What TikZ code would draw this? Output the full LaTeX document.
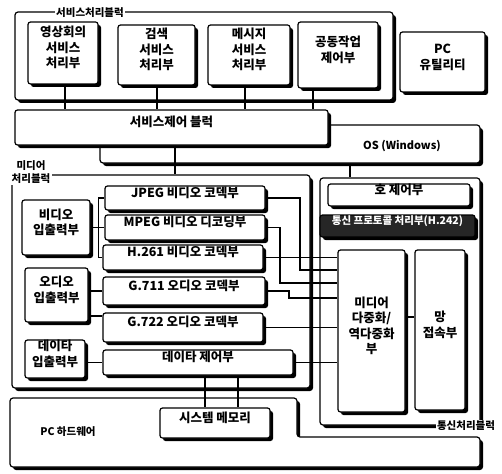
\documentclass[tikz,border=0pt]{standalone}
\usepackage{fontspec}
\setmainfont{Noto Sans CJK KR}
\usetikzlibrary{shadows,fit}
\begin{document}
\begin{tikzpicture}[x=1pt,y=-1pt,
  shd/.style={drop shadow={shadow xshift=3pt,shadow yshift=-3pt,opacity=1,fill=black}},
  box/.style={draw,line width=1.2pt,fill=white,rounded corners=2.5pt,inner sep=0pt,align=center,
    font=\bfseries\fontsize{12.5}{15.5}\selectfont,shd},
  grp/.style={draw,line width=1.2pt,fill=white,rounded corners=3pt,inner sep=0pt,shd},
  wire/.style={line width=1.4pt},
  lbl/.style={font=\bfseries\fontsize{10.5}{12.5}\selectfont,fill=white,inner sep=1.5pt,align=center}
]
\useasboundingbox (0,0) rectangle (502,473);

% PC hardware
\path[draw,line width=1.2pt,fill=white,rounded corners=3pt,shd]
  (10,398) -- (297,398) -- (297,437) -- (480,437) -- (480,467) -- (10,467) -- cycle;
\node[lbl] (pclbl) at (68,432) {PC 하드웨어};

% service processing block
\node[grp,fit={(15,12)(393,100)}] (svcblk) {};
\node[lbl] (svclbl) at (90,13) {서비스처리블럭};

% OS
\node[grp,fit={(100,125)(480,163)}] (os) {};
\node[font=\bfseries\fontsize{11}{13}\selectfont] (ostext) at (402,146) {OS (Windows)};

% media block
\node[grp,fit={(12,175)(310,388)}] (media) {};
\node[lbl] (medialbl) at (31,172) {미디어\\처리블럭};

% communication block
\node[grp,fit={(320,178)(480,425)}] (comm) {};
\node[lbl] (commlbl) at (466,426) {통신처리블럭};

% service units
\node[box,fit={(28,22)(98,84)}] (svc1) {영상회의\\서비스\\처리부};
\node[box,fit={(118,25)(195,85)}] (svc2) {검색\\서비스\\처리부};
\node[box,fit={(208,25)(290,85)}] (svc3) {메시지\\서비스\\처리부};
\node[box,fit={(298,22)(378,88)}] (svc4) {공동작업\\제어부};
\node[box,fit={(400,32)(485,92)}] (util) {PC\\유틸리티};

% service control
\node[box,fit={(15,110)(328,145)}] (ctl) {서비스제어 블럭};

% media units
\node[box,fit={(22,200)(90,255)}] (vid) {비디오\\입출력부};
\node[box,fit={(25,268)(88,322)}] (aud) {오디오\\입출력부};
\node[box,fit={(25,340)(85,378)}] (dat) {데이타\\입출력부};
\node[box,fit={(105,186)(265,210)}] (jpeg) {JPEG 비디오 코덱부};
\node[box,fit={(105,215)(265,240)}] (mpeg) {MPEG 비디오 디코딩부};
\node[box,fit={(103,245)(263,270)}] (h261) {H.261 비디오 코덱부};
\node[box,fit={(103,277)(265,305)}] (g711) {G.711 오디오 코덱부};
\node[box,fit={(103,313)(263,342)}] (g722) {G.722 오디오 코덱부};
\node[box,fit={(103,350)(293,375)}] (datctl) {데이타 제어부};

% communication units
\node[box,fit={(328,184)(470,206)}] (call) {호 제어부};
\node[box,fill=black!85,text=white,fit={(320,215)(475,237)},font=\bfseries\fontsize{10.5}{13}\selectfont] (sig) {통신 프로토콜 처리부(H.242)};
\node[box,fit={(338,250)(405,412)}] (mux) {미디어\\다중화/\\역다중화\\부};
\node[box,fit={(415,250)(465,410)}] (net) {망\\접속부};

% memory
\node[box,fit={(160,408)(270,438)}] (mem) {시스템 메모리};

% wires: services to service control
\draw[wire] (svc1.south -| 65,0) -- (ctl.north -| 65,0);
\draw[wire] (svc2.south -| 157,0) -- (ctl.north -| 157,0);
\draw[wire] (svc3.south -| 245,0) -- (ctl.north -| 245,0);
\draw[wire] (svc4.south -| 313,0) -- (ctl.north -| 313,0);

% service control to media, OS to comm
\draw[wire] (ctl.south -| 175,0) -- (media.north -| 175,0);
\draw[wire] (os.south -| 350,0) -- (comm.north -| 350,0);

% I/O to codecs
\draw[wire] (vid.east) -- ++(8,0) |- (jpeg.west);
\draw[wire] (vid.east) -- (mpeg.west |- vid.east);
\draw[wire] (vid.east) -- ++(8,0) |- (h261.west);
\draw[wire] (aud.east |- g711.west) -- (g711.west);
\draw[wire] (aud.east |- 0,316) -- (g722.west |- 0,316);
\draw[wire] (dat.east |- datctl.west) -- (datctl.west);

% codecs to mux
\draw[wire] (jpeg.east) -| (300,270) -- (mux.west |- 0,270);
\draw[wire] (mpeg.east) -| (280,283) -- (mux.west |- 0,283);
\draw[wire] (h261.east) -- (mux.west |- h261.east);
\draw[wire] (g711.east) -| (289,298) -- (mux.west |- 0,298);
\draw[wire] (g722.east) -- (mux.west |- g722.east);
\draw[wire] (datctl.east) -- (mux.west |- datctl.east);

% mux to network
\draw[wire] (mux.east |- 0,317) -- (net.west |- 0,317);

% data control to memory
\draw[wire] (datctl.south -| 205,0) -- (mem.north -| 205,0);
\draw[wire] (datctl.south -| 238,0) -- (mem.north -| 238,0);
\end{tikzpicture}
\end{document}
